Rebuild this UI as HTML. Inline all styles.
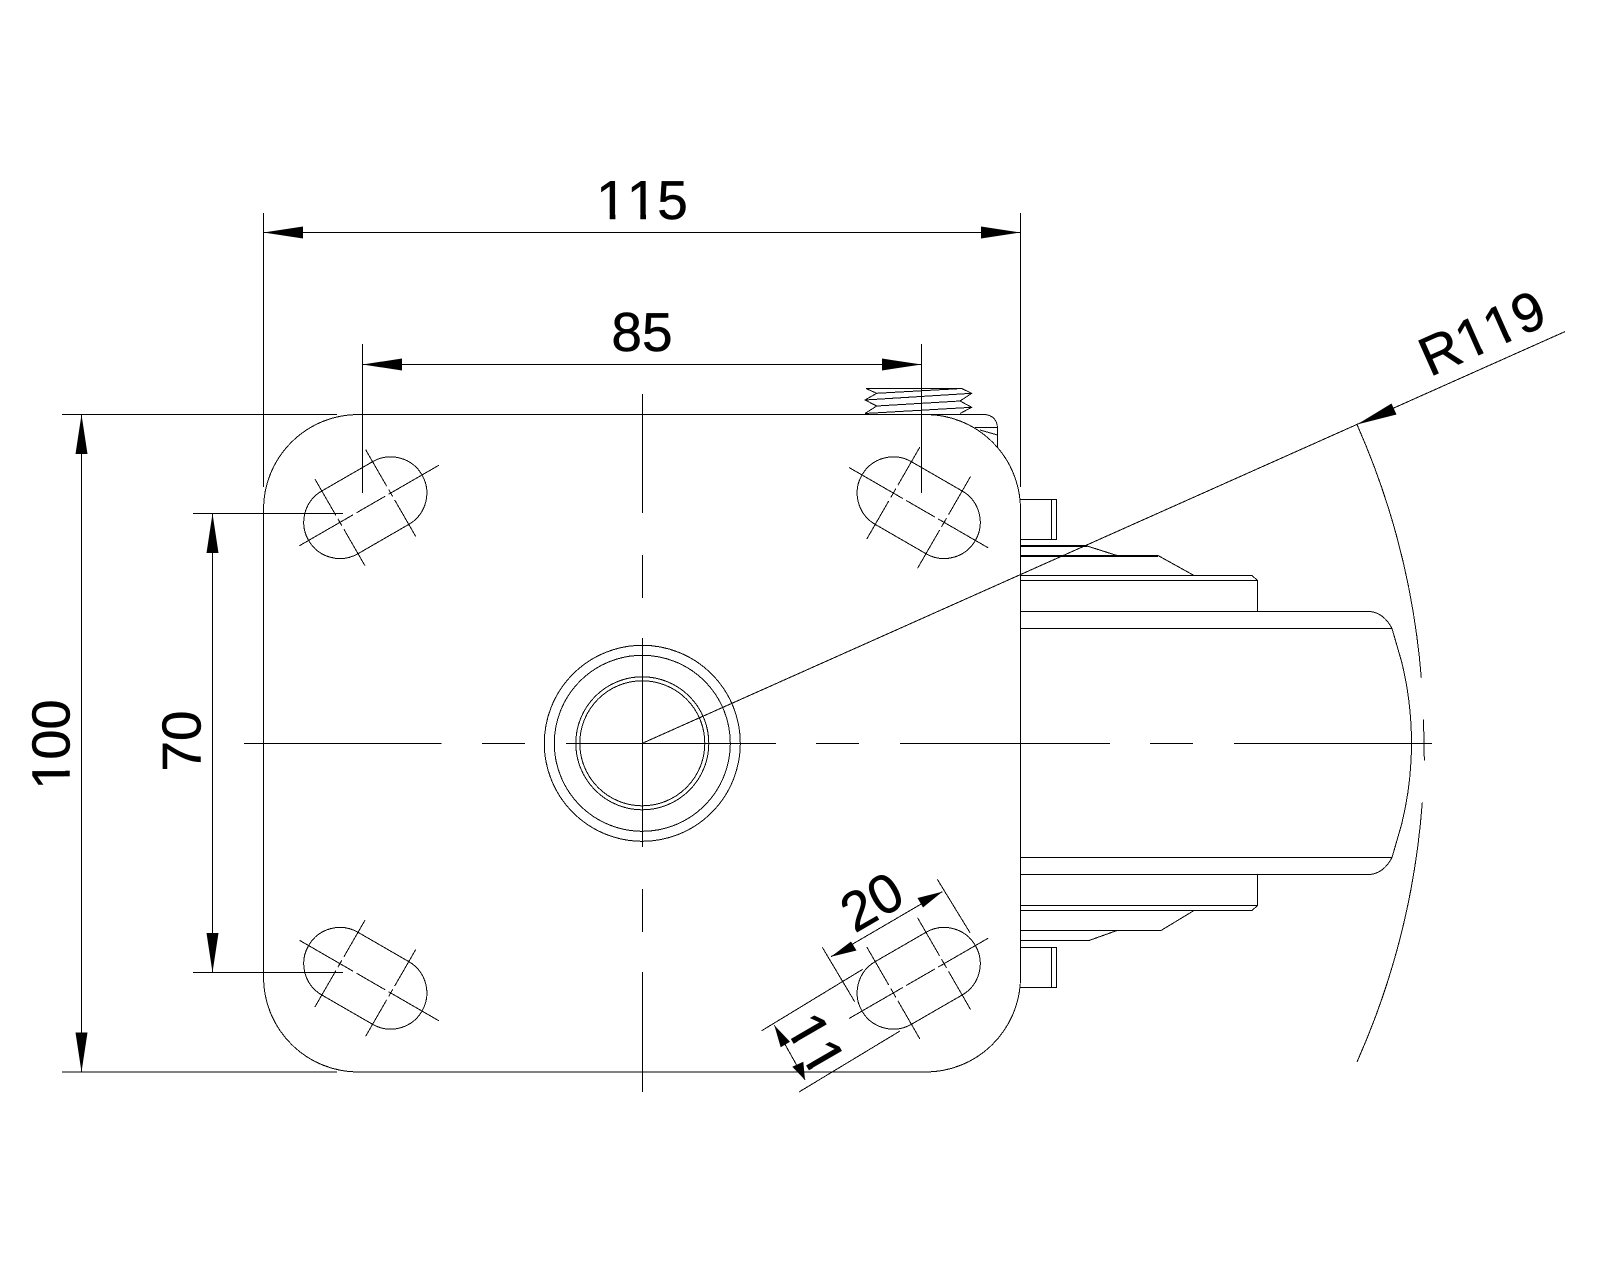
<!DOCTYPE html>
<html>
<head>
<meta charset="utf-8">
<style>
html,body{margin:0;padding:0;background:#fff;width:1600px;height:1280px;overflow:hidden}
svg{display:block}
.l{fill:none;stroke:#000;stroke-width:1;shape-rendering:crispEdges}
.t{stroke-width:2}
.a{fill:#000;stroke:none}
.w{fill:#fff;stroke:none}
text{font-family:"Liberation Sans",sans-serif;font-size:55px;fill:#000;stroke:#000;stroke-width:.5;text-anchor:start;font-kerning:none;font-feature-settings:"kern" 0}
</style>
</head>
<body>
<svg width="1600" height="1280" viewBox="0 0 1600 1280" xmlns="http://www.w3.org/2000/svg">
<rect width="1600" height="1280" fill="#fff"/>
<defs>
<rect id="f" class="w" x="0.5" y="-5.4" width="13.1" height="7.5"/>
<rect id="g" class="w" x="19.3" y="-5.4" width="11.6" height="7.5"/>
<g id="foot"><use href="#f"/><use href="#g"/></g>
<rect id="body" class="l" x="-65.5" y="-36.2" width="131" height="72.4" rx="36.2" ry="36.2"/>
<g id="slotR">
<use href="#body"/>
<path class="l" d="M-80.5,0H80.5" stroke-dasharray="62 4 33 4 62"/>
<path class="l" d="M-29.3,-53V53M29.3,-53V53" stroke-dasharray="44 4 10 4 44"/>
</g>
<g id="slotL">
<use href="#body"/>
<path class="l" d="M-76,0H85" stroke-dasharray="62 4 33 4 62"/>
<path class="l" d="M-29.3,-50V50M29.3,-50V50" stroke-dasharray="42 4 8 4 42"/>
</g>
</defs>

<!-- labels -->
<g transform="translate(642,200)"><g transform="translate(-45.9,19)"><text>115</text><use href="#foot"/><use href="#foot" x="30.6"/></g></g>
<g transform="translate(642,332)"><text x="-30.6" y="19">85</text></g>
<g transform="translate(51,744.5) rotate(-90) scale(.985)"><g transform="translate(-45.9,19)"><text>100</text><use href="#foot"/></g></g>
<g transform="translate(181.5,741) rotate(-90)"><text x="-30.6" y="19">70</text></g>
<g transform="translate(1482,333) rotate(-24)"><g transform="translate(-65.7,19)"><text>R119</text><use href="#foot" x="39.7"/><use href="#foot" x="70.3"/></g></g>
<g transform="translate(871.7,901.7) rotate(-30)"><text x="-30.6" y="19">20</text></g>
<g transform="translate(816,1044) rotate(60)"><g transform="translate(-30.6,19)"><text>11</text><use href="#foot"/><use href="#foot" x="30.6"/></g></g>

<!-- plate -->
<path class="l" d="M358.5,414.5H925.5A95,95 0 0 1 1020.5,509.5V977A95,95 0 0 1 925.5,1072H358.5A95,95 0 0 1 263.5,977V509.5A95,95 0 0 1 358.5,414.5Z"/>

<!-- slots -->
<use href="#slotL" transform="translate(365.3,507.7) rotate(-30)"/>
<use href="#slotR" transform="translate(918.7,507.7) rotate(30)"/>
<use href="#slotL" transform="translate(365.3,978.3) rotate(30)"/>
<use href="#slotR" transform="translate(918.7,978.3) rotate(-30)"/>

<!-- centre circles -->
<circle class="l" cx="642.3" cy="743.3" r="98"/>
<circle class="l" cx="642.3" cy="743.3" r="88"/>
<circle class="l" cx="642.3" cy="743.3" r="66.5"/>
<circle class="l" cx="642.3" cy="743.3" r="62.5"/>

<!-- centre lines -->
<path class="l" d="M244,743.5H441.5M482,743.5H525M566,743.5H776M816,743.5H859M900,743.5H1110M1150,743.5H1193M1234,743.5H1432"/>
<path class="l" d="M642.5,394V513M642.5,555V598M642.5,638V847M642.5,889V932M642.5,972V1092"/>

<!-- thread -->
<path class="l" d="M876.7,393.3L866,388.5H961.7L971.7,393.3L960,401L971.7,407.3L960,413.5"/>
<path class="l" d="M876.7,393.3L865,400L876.7,406L865,413.5"/>
<path class="l" d="M876.7,393.3L961.7,388.5M971.7,393.3L865,400M876.7,406L960,401M971.7,407.3L865,413.5"/>

<!-- bracket top-right of plate -->
<path class="l" d="M925.5,414.5H985Q997,416 997.5,428V447"/>
<path class="l" d="M975,427.5H997.5M980,430L997.5,435"/>

<!-- stubs -->
<path class="l" d="M1020.5,499.5H1056.5V539.5H1020.5M1051.5,499.5V539.5"/>
<path class="l" d="M1020.5,947.5H1056.5V987.5H1020.5M1051.5,947.5V987.5"/>

<!-- top fork -->
<path class="l t" d="M1020,546H1087M1020,556H1158"/>
<path class="l" d="M1087,546L1117,555.5M1158,555.5L1194,575.5"/>
<path class="l" d="M1020.5,575.5H1252L1257.5,580.5V611.5M1020.5,580.5H1257.5"/>
<!-- wheel -->
<path class="l" d="M1020.5,611.5H1370Q1384,613 1392,628.5L1401.7,662A340,340 0 0 1 1401.7,824L1392,857.5Q1384,873 1370,874.5H1020.5"/>
<path class="l" d="M1020.5,628.5H1392M1020.5,857.5H1392"/>
<!-- bottom fork -->
<path class="l" d="M1257.5,874.5V905.5L1252,910.5H1020.5M1020.5,905.5H1257.5"/>
<path class="l" d="M1020.5,930.5H1161L1194,910.5M1020.5,940.5H1089L1117,930.5"/>

<!-- dim 115 -->
<path class="l" d="M263.5,213V487M1020.5,213V487M263.5,232.5H1020.5"/>
<path class="a" d="M263.5,232.5L303,226.5V238.5ZM1020.5,232.5L981,226.5V238.5Z"/>

<!-- dim 85 -->
<path class="l" d="M362.5,344V493M921.5,344V493M362.5,364.5H921.5"/>
<path class="a" d="M362.5,364.5L402,358.5V370.5ZM921.5,364.5L882,358.5V370.5Z"/>

<!-- dim 100 -->
<path class="l" d="M62,414.5H337M62,1072H337M81.5,414.5V1072"/>
<path class="a" d="M81.5,414.5L75.5,454H87.5ZM81.5,1072L75.5,1032.5H87.5Z"/>

<!-- dim 70 -->
<path class="l" d="M193,513.5H343M193,972.5H343M212.5,513.5V972.5"/>
<path class="a" d="M212.5,513.5L206.5,553H218.5ZM212.5,972.5L206.5,933H218.5Z"/>

<!-- R119 -->
<path class="l" d="M642.3,743.3L1565,331.6"/>
<path class="a" d="M1357,424.5L1391.5,403.5L1396.5,414.5Z"/>
<path class="l" d="M1357,424.5A782.5,782.5 0 0 1 1421.3,677.7"/>
<path class="l" d="M1423.3,719.3A782.5,782.5 0 0 1 1424.3,760.7"/>
<path class="l" d="M1422.3,802.3A782.5,782.5 0 0 1 1357,1062"/>

<!-- dim 20 -->
<path class="l" d="M822.3,947.3L854.7,1001.7M937.3,879.3L970,932.7M831,956.7L942.3,891.7"/>
<path class="a" d="M831,956.7L851,941.5L856.5,950.5ZM942.3,891.7L917.5,898L923,907.5Z"/>

<!-- dim 11 -->
<path class="l" d="M761.7,1030.7L862.7,969.3M799,1092L900,1031M774.3,1025.3L805,1080"/>
<path class="a" d="M774.3,1025.3L790,1041.7L780.7,1047.3ZM805,1080L792.3,1066.7L803.3,1061.7Z"/>
</svg>
</body>
</html>
